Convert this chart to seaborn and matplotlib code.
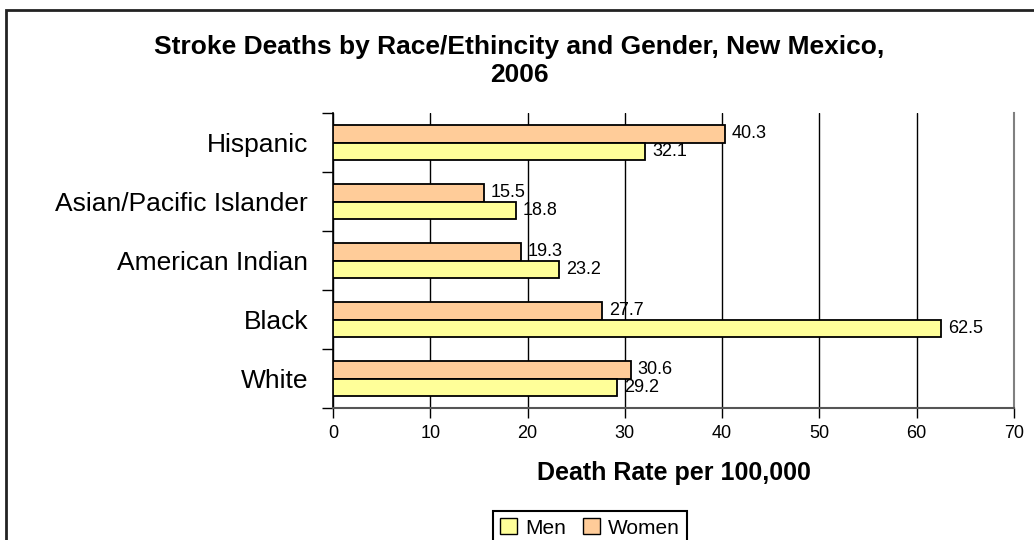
import matplotlib
matplotlib.use("Agg")
import matplotlib.pyplot as plt
import seaborn as sns
import pandas as pd
from matplotlib.patches import Rectangle, Patch

# ---- data ----
categories = ["Hispanic", "Asian/Pacific Islander", "American Indian", "Black", "White"]
men = [32.1, 18.8, 23.2, 62.5, 29.2]
women = [40.3, 15.5, 19.3, 27.7, 30.6]
x_ticks = [0, 10, 20, 30, 40, 50, 60, 70]
title = "Stroke Deaths by Race/Ethincity and Gender, New Mexico,\n2006"
x_label = "Death Rate per 100,000"

men_color = "#FFFF99"
women_color = "#FFCC99"

df = pd.DataFrame({
    "Race": categories * 2,
    "Rate": men + women,
    "Gender": ["Men"] * len(categories) + ["Women"] * len(categories),
})

sns.set_style("white")
plt.rcParams["font.family"] = ["Liberation Sans", "DejaVu Sans"]
plt.rcParams["text.color"] = "black"
plt.rcParams["axes.labelcolor"] = "black"
plt.rcParams["xtick.color"] = "black"
plt.rcParams["ytick.color"] = "black"

fig = plt.figure(figsize=(10.34, 5.40), dpi=100)
ax = fig.add_axes([333 / 1034, 1 - 408 / 540, (1014 - 333) / 1034, (408 - 113) / 540])

sns.barplot(data=df, y="Race", x="Rate", hue="Gender", order=categories,
            hue_order=["Women", "Men"],
            palette={"Men": men_color, "Women": women_color},
            orient="h", width=0.6, edgecolor="black", linewidth=1.3,
            saturation=1, ax=ax, legend=False, zorder=3)

for cont in ax.containers:
    ax.bar_label(cont, fmt="%.1f", padding=5, fontsize=13, color="black")

ax.set_xlim(0, 70)
ax.set_ylim(len(categories) - 0.5, -0.5)
ax.set_xticks(x_ticks)
ax.set_xticklabels([str(t) for t in x_ticks], fontsize=13)
ax.set_yticks(range(len(categories)))
ax.set_yticklabels(categories, fontsize=19)
ax.set_yticks([i - 0.5 for i in range(len(categories) + 1)], minor=True)
ax.tick_params(axis="y", which="major", length=0, pad=18, labelcolor="black")
ax.tick_params(axis="y", which="minor", length=8, width=1, color="black", direction="out", left=True)
ax.tick_params(axis="x", which="major", length=7, width=1, color="black", direction="out",
               bottom=True, pad=5, labelcolor="black")

ax.set_ylabel("")
ax.set_xlabel(x_label, fontsize=18, fontweight="bold", labelpad=14, color="black")

ax.set_axisbelow(True)
ax.grid(axis="x", color="black", linewidth=1)
ax.grid(axis="y", visible=False)

ax.spines["top"].set_visible(False)
ax.spines["right"].set_visible(True)
ax.spines["right"].set_color("#808080")
ax.spines["right"].set_linewidth(1.5)
ax.spines["left"].set_color("black")
ax.spines["left"].set_linewidth(1.2)
ax.spines["bottom"].set_color("#555555")
ax.spines["bottom"].set_linewidth(1.5)

fig.suptitle(title, x=519 / 1034, y=1 - 35 / 540, fontsize=19, fontweight="bold",
             linespacing=1.2, va="top", color="black")

handles = [Patch(facecolor=men_color, edgecolor="black", linewidth=1),
           Patch(facecolor=women_color, edgecolor="black", linewidth=1)]
leg = fig.legend(handles, ["Men", "Women"], loc="upper center",
                 bbox_to_anchor=(590 / 1034, 1 - 511 / 540), ncol=2, fontsize=15,
                 frameon=True, fancybox=False, edgecolor="black", framealpha=1,
                 handlelength=0.8, handleheight=0.8, handletextpad=0.4,
                 columnspacing=0.8, borderpad=0.35, borderaxespad=0)
leg.get_frame().set_linewidth(1.5)
for t in leg.get_texts():
    t.set_color("black")

border = Rectangle((6 / 1034, -0.05), 1.1, 1 - 10 / 540 + 0.05, transform=fig.transFigure,
                   fill=False, edgecolor="#222222", linewidth=2, clip_on=False)
fig.patches.append(border)

fig.savefig("out.png", dpi=100)
